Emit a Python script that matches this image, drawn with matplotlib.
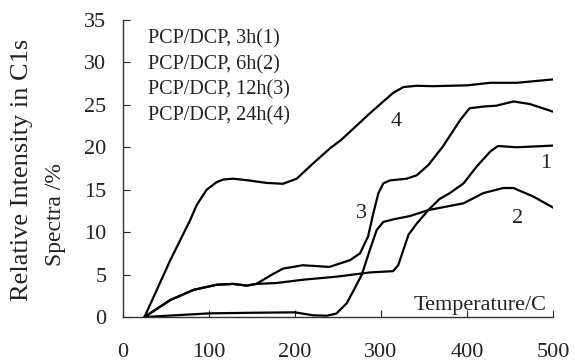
import matplotlib
matplotlib.use("Agg")
import matplotlib.pyplot as plt

# Curve 1: PCP/DCP, 3h
x1 = [25, 55, 82, 109, 128, 144, 155, 178, 210, 248, 264, 287, 314, 320, 326, 332, 341.5, 355, 368, 380, 396, 411, 427, 436, 458, 500]
y1 = [0, 2.0, 3.2, 3.8, 3.9, 3.7, 3.9, 4.0, 4.4, 4.75, 4.95, 5.25, 5.4, 6.1, 7.9, 9.7, 11.0, 12.6, 13.9, 14.6, 15.75, 17.7, 19.5, 20.15, 20.0, 20.2]
# Curve 2: PCP/DCP, 6h
x2 = [25, 101, 151, 200, 221, 237, 248, 260, 268, 277.5, 287, 295, 302.7, 314, 333.7, 355, 396, 419, 442, 454, 477, 500]
y2 = [0, 0.43, 0.5, 0.55, 0.2, 0.15, 0.4, 1.6, 3.1, 4.95, 7.9, 10.25, 11.2, 11.5, 11.9, 12.6, 13.4, 14.6, 15.2, 15.2, 14.2, 12.9]
# Curve 3: PCP/DCP, 12h
x3 = [25, 55, 82, 109, 128, 144, 155, 175, 186, 209, 240, 264, 275.6, 285, 291, 297, 302.7, 310.5, 330, 341.5, 355, 372, 392, 403, 419, 434, 454, 473, 500]
y3 = [0, 2.0, 3.2, 3.8, 3.9, 3.7, 3.9, 5.1, 5.7, 6.1, 5.9, 6.7, 7.5, 9.5, 12.2, 14.6, 15.75, 16.1, 16.3, 16.7, 17.9, 20.1, 23.2, 24.6, 24.8, 24.9, 25.4, 25.1, 24.2]
# Curve 4: PCP/DCP, 24h
x4 = [25, 55, 78, 85.7, 97.3, 109, 116.6, 128, 145.7, 167, 186, 202, 221, 241, 254, 287, 302.7, 314, 326, 341.5, 360, 400, 427, 458, 500]
y4 = [0, 6.7, 11.4, 13.2, 15.0, 15.9, 16.2, 16.3, 16.1, 15.8, 15.7, 16.3, 18.1, 19.9, 20.9, 24.0, 25.4, 26.4, 27.1, 27.25, 27.2, 27.3, 27.6, 27.6, 28.0]

legend_lines = ["PCP/DCP, 3h(1)", "PCP/DCP, 6h(2)", "PCP/DCP, 12h(3)", "PCP/DCP, 24h(4)"]
curve_labels = ["1", "2", "3", "4"]
label_pos = [(491, 18.1), (459, 11.6), (277, 12.2), (318, 23.0)]
xticks = [0, 100, 200, 300, 400, 500]
yticks = [0, 5, 10, 15, 20, 25, 30, 35]

plt.rcParams['font.family'] = ['Liberation Serif', 'DejaVu Serif']
tc = '#222222'

fig = plt.figure(figsize=(5.75, 3.62), dpi=100)
ax = fig.add_axes([123/575, 45/362, 430/575, 297/362])

for xs, ys in [(x1, y1), (x2, y2), (x3, y3), (x4, y4)]:
    ax.plot(xs, ys, color='black', lw=1.6, solid_joinstyle='round')

ax.set_xlim(0, 500)
ax.set_ylim(0, 35)
ax.set_xticks(xticks)
ax.set_yticks(yticks)
ax.tick_params(axis='x', direction='in', length=5, width=0.8, pad=19, labelsize=16, colors=tc)
ax.tick_params(axis='y', direction='in', length=5, width=0.8, pad=12, labelsize=16, colors=tc)
for s in ['top', 'right']:
    ax.spines[s].set_visible(False)
for s in ['left', 'bottom']:
    ax.spines[s].set_linewidth(1.0)
    ax.spines[s].set_color('#333333')

for i, t in enumerate(legend_lines):
    ax.text(29, 32.8 - i * 3.03, t, fontsize=14.5, color=tc, ha='left', va='center')

for t, (lx, ly) in zip(curve_labels, label_pos):
    ax.text(lx, ly, t, fontsize=16, color=tc, ha='center', va='center')

ax.text(493, 0.8, "Temperature/C", fontsize=16, color=tc, ha='right', va='baseline')

fig.text(22/575, 1 - 170/362, "Relative Intensity in C1s", rotation=90, fontsize=19,
         color=tc, ha='center', va='center')
fig.text(55/575, 1 - 215/362, "Spectra /%", rotation=90, fontsize=17,
         color=tc, ha='center', va='center')

fig.savefig("out.png", dpi=100)
